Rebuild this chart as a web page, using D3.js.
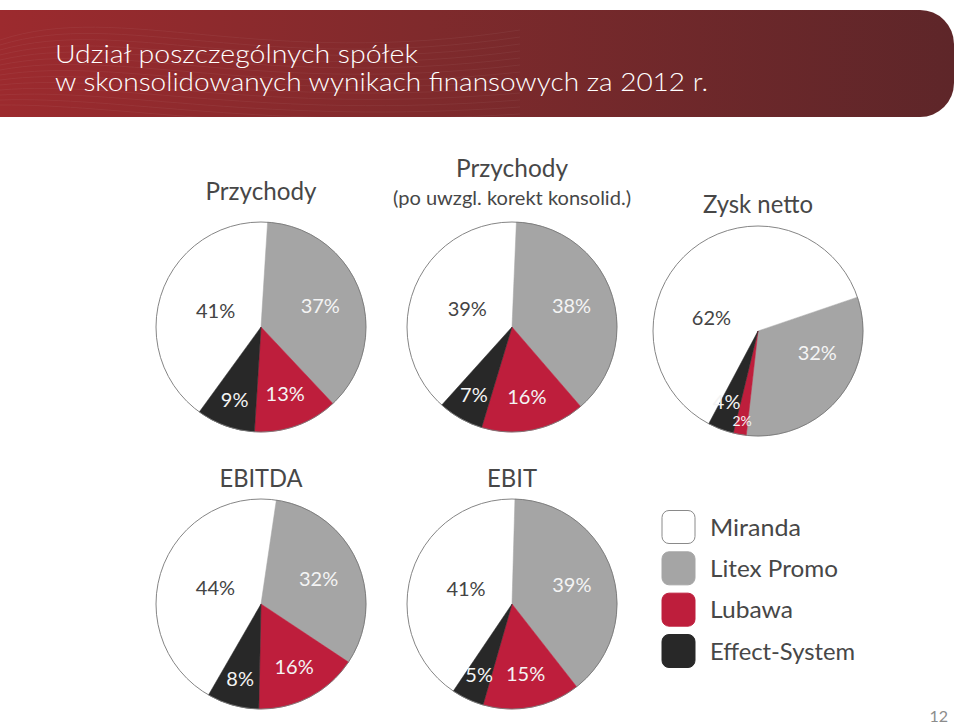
<!DOCTYPE html>
<html><head><meta charset="utf-8">
<script src="https://cdn.jsdelivr.net/npm/d3@7/dist/d3.min.js"></script>
<style>html,body{margin:0;padding:0;background:#fff;}svg{display:block;}</style>
</head><body>
<svg id="chart" width="960" height="725"></svg>
<script>
// ---- data ----
const companies = ["Miranda", "Litex Promo", "Lubawa", "Effect-System"];
const przychody = [41, 37, 13, 9];
const przychodyKorekty = [39, 38, 16, 7];
const zyskNetto = [62, 32, 2, 4];
const ebitda = [44, 32, 16, 8];
const ebit = [41, 39, 15, 5];
const titleLines = ["Udział poszczególnych spółek", "w skonsolidowanych wynikach finansowych za 2012 r."];
const pageNumber = "12";

// ---- style / layout ----
const colors = ["#ffffff", "#a5a5a5", "#be1e3c", "#282828"];
const labelColors = ["#444444", "#f4f4f4", "#f4f4f4", "#f4f4f4"];
const labelRadiusFactor = [0.46, 0.6, 0.68, 0.74];
const R = 105;
const fontFam = "Lato, 'Open Sans', 'Noto Sans', sans-serif";
const textColor = "#474747";

const pies = [
  {values: przychody, cx: 261, cy: 327, rot: 216, shift: [0, 0, 0, 0],
   titles: [{text: "Przychody", y: 200, size: 25, w: 111}]},
  {values: przychodyKorekty, cx: 512, cy: 327, rot: 222, shift: [0, 0, 0, 0],
   titles: [{text: "Przychody", y: 177, size: 25, w: 112},
            {text: "(po uwzgl. korekt konsolid.)", y: 205, size: 19, w: 238}]},
  {values: zyskNetto, cx: 758, cy: 331, rot: 208, shift: [-34, -19, 0, 3],
   titles: [{text: "Zysk netto", y: 213, size: 25, w: 110}]},
  {values: ebitda, cx: 261, cy: 604, rot: 210, shift: [0, 0, 0, 0],
   titles: [{text: "EBITDA", y: 487, size: 25, w: 83}]},
  {values: ebit, cx: 512, cy: 604, rot: 214, shift: [0, 0, 0, 0],
   titles: [{text: "EBIT", y: 487, size: 25, w: 50}]}
];

const svg = d3.select("#chart");
const defs = svg.append("defs");

// ---- header banner ----
const grad = defs.append("linearGradient").attr("id", "hdr").attr("x1", "0").attr("x2", "1").attr("y1", "0").attr("y2", "0");
grad.append("stop").attr("offset", "0").attr("stop-color", "#9c2a2e");
grad.append("stop").attr("offset", "0.45").attr("stop-color", "#7f2a2c");
grad.append("stop").attr("offset", "1").attr("stop-color", "#5e2629");

const hx0 = 0, hx1 = 954, hy0 = 10, hy1 = 117, hr = 34;
const hp = d3.path();
hp.moveTo(hx0, hy0);
hp.lineTo(hx1 - hr, hy0);
hp.arcTo(hx1, hy0, hx1, hy0 + hr, hr);
hp.lineTo(hx1, hy1 - hr);
hp.arcTo(hx1, hy1, hx1 - hr, hy1, hr);
hp.lineTo(hx0, hy1);
hp.closePath();
svg.append("path").attr("d", hp.toString()).attr("fill", "url(#hdr)");

// faint decorative waves
const clip = defs.append("clipPath").attr("id", "hclip");
clip.append("path").attr("d", hp.toString());
const waves = svg.append("g").attr("clip-path", "url(#hclip)");
d3.range(14).forEach(i => {
  const y0 = 40 + i * 5;
  waves.append("path")
    .attr("d", `M0,${y0} C120,${y0 - 40 + i * 3} 260,${y0 + 30} 520,${y0 - 10 + i * 2}`)
    .attr("fill", "none").attr("stroke", "#ffffff").attr("stroke-opacity", 0.05).attr("stroke-width", 1);
});

const titleWidths = [363, 653];
titleLines.forEach((t, i) => {
  svg.append("text").attr("x", 55).attr("y", 63 + i * 28)
    .attr("font-family", "'Century Gothic', 'URW Gothic', Lato, 'DejaVu Sans', sans-serif")
    .attr("font-size", 25).attr("font-weight", 300).attr("fill", "#ffffff")
    .attr("textLength", titleWidths[i]).attr("lengthAdjust", "spacingAndGlyphs")
    .text(t);
});

// ---- pies ----
pies.forEach(p => {
  const a0 = p.rot * Math.PI / 180;
  const pie = d3.pie().sort(null).value(d => d).startAngle(a0).endAngle(a0 + 2 * Math.PI);
  const arcs = pie(p.values);
  const arc = d3.arc().innerRadius(0).outerRadius(R);
  const g = svg.append("g").attr("transform", `translate(${p.cx},${p.cy})`);
  g.selectAll("path.slice").data(arcs).enter().append("path")
    .attr("class", "slice")
    .attr("d", arc)
    .attr("fill", (d, i) => colors[i])
    .attr("stroke", (d, i) => colors[i]).attr("stroke-width", 0.5);
  g.append("circle").attr("r", R).attr("fill", "none").attr("stroke", "#777777").attr("stroke-width", 0.9);
  g.selectAll("text.lbl").data(arcs).enter().append("text")
    .attr("class", "lbl")
    .attr("transform", (d, i) => {
      const f = d.data < 3 ? 0.87 : labelRadiusFactor[i];
      const s = p.shift[i] * Math.PI / 180;
      const la = d3.arc().innerRadius(R * f).outerRadius(R * f);
      const c = la.centroid({startAngle: d.startAngle + s, endAngle: d.endAngle + s});
      return `translate(${c[0]},${c[1]})`;
    })
    .attr("text-anchor", "middle").attr("dy", "0.36em")
    .attr("font-family", fontFam).attr("font-weight", 400)
    .attr("font-size", d => d.data < 3 ? 14 : 20)
    .attr("fill", (d, i) => labelColors[i])
    .text(d => d.data + "%");
  p.titles.forEach(t => {
    svg.append("text").attr("x", p.cx).attr("y", t.y)
      .attr("text-anchor", "middle")
      .attr("font-family", fontFam).attr("font-weight", 400).attr("font-size", t.size)
      .attr("fill", textColor)
      .attr("textLength", t.w).attr("lengthAdjust", "spacingAndGlyphs")
      .text(t.text);
  });
});

// ---- legend ----
const ly = d3.scalePoint().domain(companies).range([527, 651]);
const legendTextW = [91, 128, 83, 145];
const lg = svg.append("g");
companies.forEach((c, i) => {
  lg.append("rect").attr("x", 662).attr("y", ly(c) - 16.5).attr("width", 33).attr("height", 33)
    .attr("rx", 7).attr("ry", 7)
    .attr("fill", colors[i])
    .attr("stroke", i === 0 ? "#8a8a8a" : colors[i]).attr("stroke-width", 1);
  lg.append("text").attr("x", 710).attr("y", ly(c) + 8.5)
    .attr("font-family", fontFam).attr("font-weight", 400).attr("font-size", 24).attr("fill", textColor)
    .attr("textLength", legendTextW[i]).attr("lengthAdjust", "spacingAndGlyphs")
    .text(c);
});

// ---- page number ----
svg.append("text").attr("x", 948).attr("y", 722).attr("text-anchor", "end")
  .attr("font-family", "'Century Gothic', Lato, 'DejaVu Sans', sans-serif")
  .attr("font-size", 16).attr("fill", "#8c8c8c").text(pageNumber);
</script>
</body></html>
